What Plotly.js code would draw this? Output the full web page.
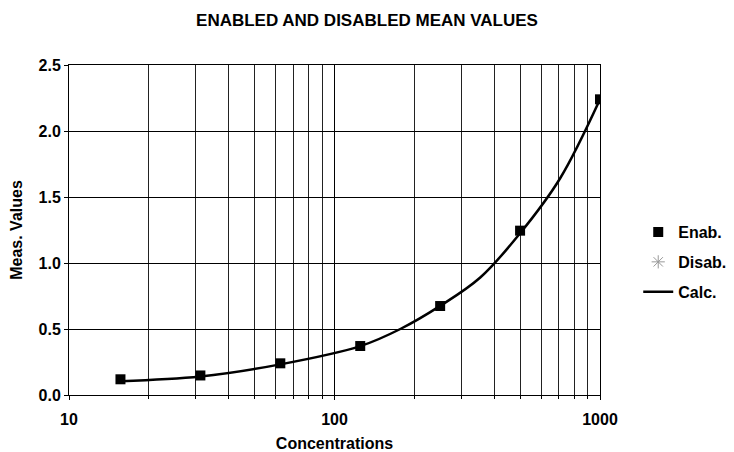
<!DOCTYPE html>
<html>
<head>
<meta charset="utf-8">
<script src="https://cdn.plot.ly/plotly-3.0.1.min.js"></script>
<style>html,body{margin:0;padding:0;background:#fff;}#chart{width:734px;height:452px;}</style>
</head>
<body>
<div id="chart"></div>
<script>
// Enabled mean values
const enabConc = [15.625, 31.25, 62.5, 125, 250, 500, 1000];
const enabVals = [0.119, 0.148, 0.240, 0.371, 0.674, 1.245, 2.24];
// Disabled mean values (none shown)
const disabConc = [null];
const disabVals = [null];
// Calculated curve
const calcConc = [15.625, 31.25, 62.5, 125, 177, 250, 354, 500, 707, 1000];
const calcVals = [0.105, 0.14, 0.232, 0.37, 0.5, 0.675, 0.89, 1.225, 1.64, 2.24];
const yTickVals = [0, 0.5, 1.0, 1.5, 2.0, 2.5];
const yTickText = ['0.0', '0.5', '1.0', '1.5', '2.0', '2.5'];
const xTickVals = [10, 100, 1000];
const xTickText = ['10', '100', '1000'];

const FONT = 'Arial, "Liberation Sans", sans-serif';
const bold = a => a.map(s => '<b>' + s + '</b>');

const traces = [
  {x: calcConc, y: calcVals, type: 'scatter', mode: 'lines', name: '<b>Calc.</b>',
   line: {color: '#000', width: 2.5, shape: 'spline', smoothing: 1}, legendgroup: 'c', legendrank: 3},
  {x: enabConc, y: enabVals, type: 'scatter', mode: 'markers', name: '<b>Enab.</b>',
   marker: {symbol: 'square', size: 10, color: '#000'}, legendgroup: 'a', legendrank: 1},
  {x: disabConc, y: disabVals, type: 'scatter', mode: 'markers', name: '<b>Disab.</b>',
   marker: {symbol: 'asterisk-open', size: 11, color: '#999', line: {color: '#999', width: 1}}, legendgroup: 'b', legendrank: 2}
];

const layout = {
  width: 734, height: 452,
  margin: {l: 69, r: 134, t: 65, b: 57, autoexpand: false},
  paper_bgcolor: '#fff', plot_bgcolor: '#fff',
  font: {family: FONT, color: '#000', size: 16},
  title: {text: '<b>ENABLED AND DISABLED MEAN VALUES</b>', x: 0.5, xanchor: 'center', xref: 'container', y: 0.956, yanchor: 'middle',
          font: {family: FONT, size: 17, color: '#000'}},
  xaxis: {
    type: 'log', range: [1, 3], tickvals: xTickVals, ticktext: bold(xTickText),
    showgrid: true, gridcolor: '#000', gridwidth: 1,
    showline: true, linecolor: '#000', linewidth: 1, mirror: true,
    ticks: 'outside', ticklen: 4, tickcolor: '#000', ticklabelstandoff: 6,
    tickfont: {family: FONT, size: 16, color: '#000'},
    minor: {dtick: 'D1', showgrid: true, gridcolor: '#222', gridwidth: 1, ticks: 'outside', ticklen: 3, tickcolor: '#000'},
    title: {text: '<b>Concentrations</b>', font: {family: FONT, size: 16, color: '#000'}, standoff: 14},
    zeroline: false
  },
  yaxis: {
    range: [0, 2.5], tickvals: yTickVals, ticktext: bold(yTickText),
    showgrid: true, gridcolor: '#000', gridwidth: 1,
    showline: true, linecolor: '#000', linewidth: 1, mirror: true,
    ticks: 'outside', ticklen: 4, tickcolor: '#000',
    tickfont: {family: FONT, size: 16, color: '#000'},
    title: {text: '<b>Meas. Values</b>', font: {family: FONT, size: 16, color: '#000'}, standoff: 11},
    zeroline: false
  },
  legend: {
    x: 1.072, xanchor: 'left', y: 0.545, yanchor: 'top',
    traceorder: 'grouped', tracegroupgap: 6,
    font: {family: FONT, size: 16, color: '#000'},
    bgcolor: 'rgba(0,0,0,0)', borderwidth: 0
  },
  showlegend: true
};

Plotly.newPlot('chart', traces, layout, {displayModeBar: false, staticPlot: true});
</script>
</body>
</html>
